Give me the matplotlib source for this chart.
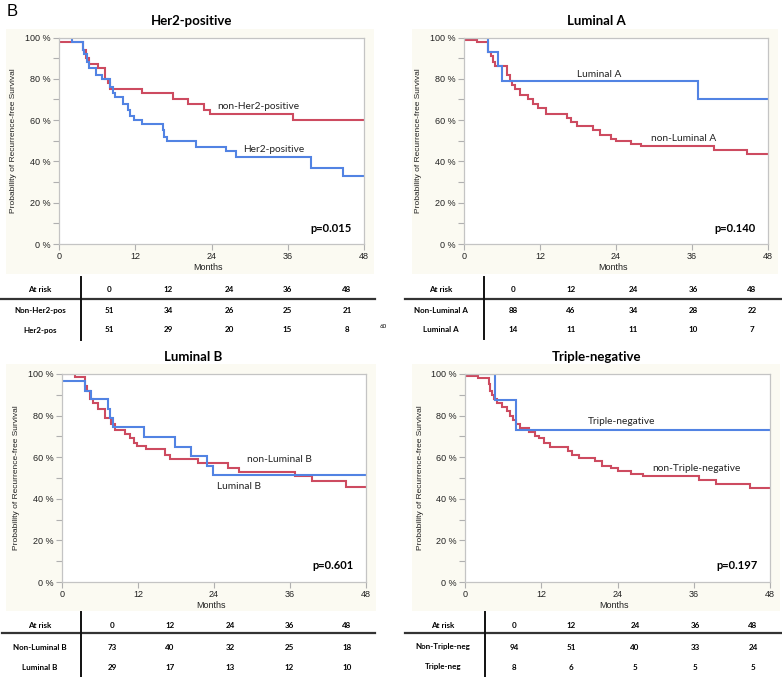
import matplotlib
matplotlib.use("Agg")
import matplotlib.pyplot as plt
from matplotlib.patches import Rectangle
from matplotlib.lines import Line2D
from matplotlib.ticker import MultipleLocator, FuncFormatter

W, H = 782, 677
RED = "#cd4b60"
BLUE = "#5283e3"

# --- Kaplan-Meier step data (month of step, survival % after step) ---
HER2_NON_T = [0, 3.7, 4.2, 4.7, 6.1, 7.2, 7.7, 8.0, 13.0, 18.0, 20.3, 22.8, 23.8, 36.9]
HER2_NON_S = [98, 94, 90, 87, 85, 80, 78, 75, 73, 70, 68, 65, 63, 60]
HER2_POS_T = [0, 2.1, 3.7, 4.0, 4.4, 4.8, 5.9, 6.7, 8.0, 8.5, 8.8, 10.1, 10.9, 11.2,
              11.8, 13.1, 16.3, 16.5, 17.0, 21.5, 26.3, 27.9, 39.6, 44.7]
HER2_POS_S = [100, 98, 94, 92, 88, 85, 82, 80, 76, 73, 71, 68, 65, 62,
              60, 58, 55, 52, 50, 47, 45, 42, 37, 33]

LUMA_NON_T = [0, 2.1, 3.8, 4.3, 4.6, 4.9, 6.8, 7.2, 7.6, 8.0, 8.8, 10.1, 10.9, 11.7,
              13.0, 16.3, 16.9, 17.9, 20.3, 21.4, 23.2, 24.0, 26.3, 27.9, 39.5, 44.7]
LUMA_NON_S = [99, 98, 93, 91, 88, 86, 82, 79, 77, 75, 72, 70, 68, 66,
              63, 61, 59, 57, 55, 53, 51, 50, 48.5, 47.5, 45.5, 43.5]
LUMA_POS_T = [0, 3.8, 5.3, 6.0, 36.9]
LUMA_POS_S = [100, 93, 86, 79, 70]

LUMB_NON_T = [0, 2.05, 3.6, 3.9, 4.4, 4.9, 5.7, 6.8, 7.8, 8.4, 9.9, 10.7, 11.3, 11.8,
              13.2, 16.3, 17.1, 21.5, 26.2, 28.0, 36.8, 39.5, 44.8]
LUMB_NON_S = [100, 98.6, 94, 92, 88, 86, 83, 79, 76, 73, 71, 69, 67, 65.5,
              64, 61, 59, 57, 55, 53, 51, 48.5, 45.8]
LUMB_POS_T = [0, 3.6, 4.5, 7.2, 7.6, 8.0, 12.9, 17.9, 20.3, 22.9, 23.9]
LUMB_POS_S = [96.5, 92, 88, 83, 79, 74.5, 69.5, 65, 60.5, 56, 51.5]

TN_NON_T = [0, 2.1, 3.7, 3.9, 4.25, 4.6, 5.0, 5.9, 6.6, 7.1, 7.5, 8.0, 8.6, 10.0, 11.0,
            11.7, 12.5, 13.3, 16.2, 16.9, 18.0, 20.4, 21.5, 23.0, 24.0, 26.1, 28.0,
            36.9, 39.5, 44.8]
TN_NON_S = [99, 98, 95, 92, 90, 88, 86, 84, 82, 80, 78, 76, 74, 72, 70,
            69, 67, 65, 63, 61, 59.5, 58, 56, 55, 53.5, 52, 51,
            49, 47, 45]
TN_POS_T = [0, 4.8, 8.0]
TN_POS_S = [100, 87.5, 73]

# --- at-risk tables ---
RISK_TIMES = ["0", "12", "24", "36", "48"]
HER2_ROWS = ["Non-Her2-pos", "Her2-pos"]
HER2_RISK = [[51, 34, 26, 25, 21], [51, 29, 20, 15, 8]]
LUMA_ROWS = ["Non-Luminal A", "Luminal A"]
LUMA_RISK = [[88, 46, 34, 28, 22], [14, 11, 11, 10, 7]]
LUMB_ROWS = ["Non-Luminal B", "Luminal B"]
LUMB_RISK = [[73, 40, 32, 25, 18], [29, 17, 13, 12, 10]]
TN_ROWS = ["Non-Triple-neg", "Triple-neg"]
TN_RISK = [[94, 51, 40, 33, 24], [8, 6, 5, 5, 5]]

fig = plt.figure(figsize=(W / 100, H / 100), dpi=100)
fig.patch.set_facecolor("white")


def fx(x):
    return x / W


def fy(y):
    return 1 - y / H


def ptext(x, y, s, **kw):
    fig.text(fx(x), fy(y), s, **kw)


def pline(x0, y0, x1, y1, **kw):
    fig.add_artist(Line2D([fx(x0), fx(x1)], [fy(y0), fy(y1)], transform=fig.transFigure, **kw))


def km_panel(box, bg, title, title_xy, red, blue, lab_red, lab_blue, pval):
    l, t, r, b = box
    bx0, by0, bx1, by1 = bg
    fig.add_artist(Rectangle((fx(bx0), fy(by1)), fx(bx1 - bx0), (by1 - by0) / H,
                             transform=fig.transFigure, facecolor="#fbfaf2",
                             edgecolor="none", zorder=0))
    ax = fig.add_axes([fx(l), fy(b), fx(r - l), (b - t) / H])
    ax.set_facecolor("white")
    for (ts, ss), col in ((red, RED), (blue, BLUE)):
        xs = list(ts) + [48]
        ys = list(ss) + [ss[-1]]
        ax.step(xs, ys, where="post", color=col, lw=1.5, solid_joinstyle="miter")
    ax.set_xlim(0, 48)
    ax.set_ylim(0, 100)
    ax.xaxis.set_major_locator(MultipleLocator(12))
    ax.yaxis.set_major_locator(MultipleLocator(20))
    ax.yaxis.set_minor_locator(MultipleLocator(10))
    ax.yaxis.set_major_formatter(FuncFormatter(lambda v, p: f"{int(v)} %"))
    for sp in ax.spines.values():
        sp.set_color("#c4c4c4")
        sp.set_linewidth(0.9)
    ax.tick_params(which="both", direction="out", color="#b0b0b0", width=0.8,
                   labelsize=6.5, pad=2, labelcolor="#222222")
    ax.tick_params(which="major", length=4)
    ax.tick_params(which="minor", length=4)
    for lb in ax.get_xticklabels() + ax.get_yticklabels():
        lb.set_family("Liberation Sans")
    ax.text(*lab_red[1], lab_red[0], fontsize=7.3, family="Lato", color="#222222",
            ha="center", va="center")
    ax.text(*lab_blue[1], lab_blue[0], fontsize=7.3, family="Lato", color="#222222",
            ha="center", va="center")
    ax.text(46, 7.7, pval, fontsize=8, family="Lato", weight="bold", ha="right", va="center")
    ptext((l + r) / 2 - 3, b + 23, "Months", fontsize=6.5, family="Liberation Sans",
          ha="center", va="center", color="#222222")
    ptext(l - 45, (t + b) / 2, "Probability of Recurrence-free Survival", fontsize=6,
          family="Liberation Sans", rotation=90, ha="center", va="center", color="#222222")
    ptext(title_xy[0], title_xy[1], title, fontsize=9.5, family="Lato", weight="bold",
          ha="center", va="center")
    return ax


def risk_table(rows, risk, label_x, col_x, y_head, y_rows, hline, vline):
    tk = dict(fontsize=5.8, family="Lato", weight="bold", ha="center", va="center")
    ptext(label_x, y_head, "At risk", **tk)
    for cx, tt in zip(col_x, RISK_TIMES):
        ptext(cx, y_head, tt, **tk)
    for yy, name, vals in zip(y_rows, rows, risk):
        ptext(label_x, yy, name, **tk)
        for cx, v in zip(col_x, vals):
            ptext(cx, yy, str(v), **tk)
    pline(*hline, color="#333333", lw=1.6)
    pline(*vline, color="#111111", lw=1.4)


fig.text(fx(7), fy(11), "B", fontsize=12, family="Liberation Sans", ha="left", va="center")

km_panel((59, 37.5, 364, 244), (6, 29, 374, 274), "Her2-positive", (192, 21),
         (HER2_NON_T, HER2_NON_S), (HER2_POS_T, HER2_POS_S),
         ("non-Her2-positive", (31.3, 66.8)), ("Her2-positive", (33.8, 46.0)), "p=0.015")
km_panel((464, 37.5, 768, 244), (412, 29, 778, 274), "Luminal A", (596, 21),
         (LUMA_NON_T, LUMA_NON_S), (LUMA_POS_T, LUMA_POS_S),
         ("non-Luminal A", (34.6, 51.3)), ("Luminal A", (21.3, 82.3)), "p=0.140")
km_panel((62, 374, 366, 582), (6, 364, 376, 611), "Luminal B", (193, 357),
         (LUMB_NON_T, LUMB_NON_S), (LUMB_POS_T, LUMB_POS_S),
         ("non-Luminal B", (34.3, 58.7)), ("Luminal B", (27.9, 45.7)), "p=0.601")
km_panel((465, 374, 770, 582), (412, 364, 780, 611), "Triple-negative", (596, 357),
         (TN_NON_T, TN_NON_S), (TN_POS_T, TN_POS_S),
         ("non-Triple-negative", (36.4, 54.8)), ("Triple-negative", (24.6, 77.4)), "p=0.197")

risk_table(HER2_ROWS, HER2_RISK, 40, [109, 168, 229, 287, 347], 290, [310, 330],
           (0, 299, 375, 299), (81, 277, 81, 340))
risk_table(LUMA_ROWS, LUMA_RISK, 441, [513, 571, 633, 693, 752], 290, [310, 329],
           (405, 299, 782, 299), (484, 277, 484, 339))
risk_table(LUMB_ROWS, LUMB_RISK, 40, [112, 170, 230, 289, 347], 626, [647, 667],
           (2, 633, 375, 633), (81, 612, 81, 677))
risk_table(TN_ROWS, TN_RISK, 443, [514, 571, 635, 695, 753], 625, [647, 667],
           (405, 633, 782, 633), (485, 612, 485, 677))

ptext(383, 327, "60", fontsize=4.5, family="Lato", ha="center", va="center")

fig.savefig("out.png", dpi=100)
